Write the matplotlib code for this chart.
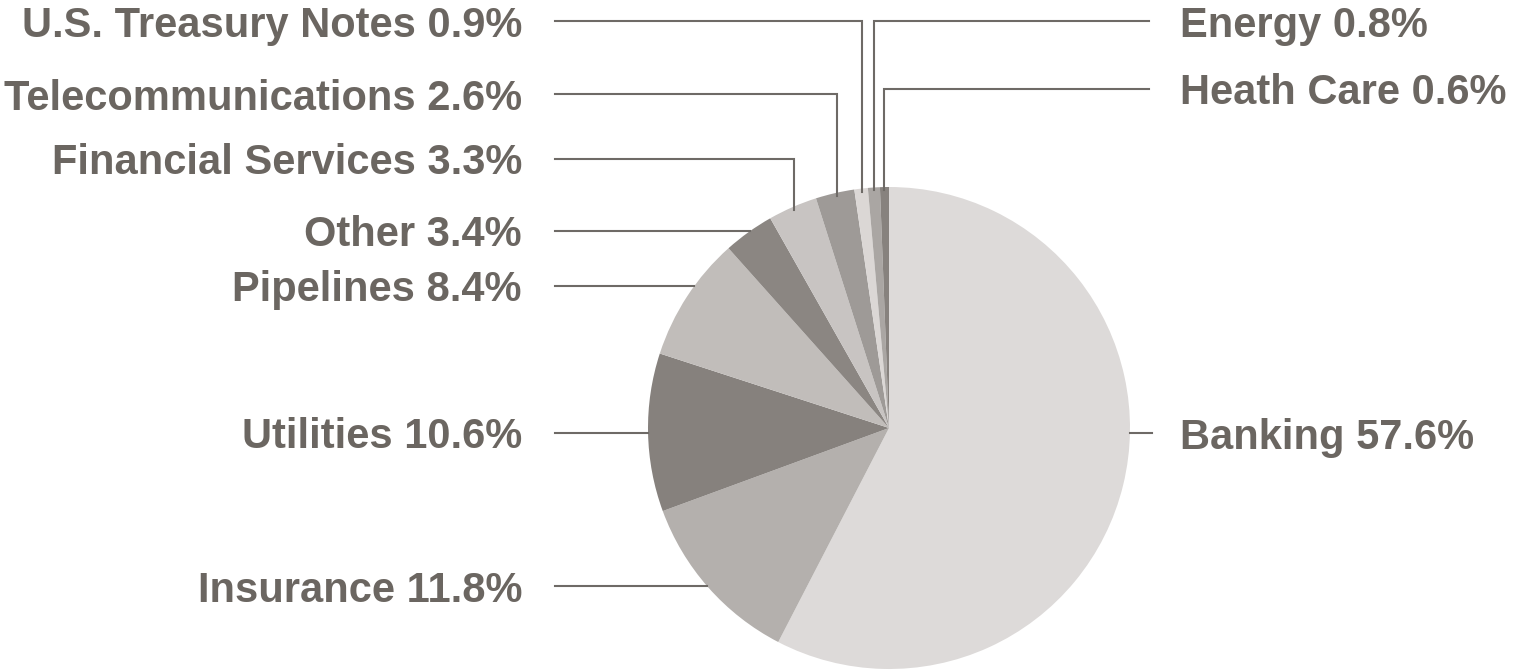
import numpy as np
import matplotlib.pyplot as plt

# data
sectors = ['Banking', 'Insurance', 'Utilities', 'Pipelines', 'Other',
           'Financial Services', 'Telecommunications', 'U.S. Treasury Notes',
           'Energy', 'Heath Care']
shares = [57.6, 11.8, 10.6, 8.4, 3.4, 3.3, 2.6, 0.9, 0.8, 0.6]
colors = ['#dddad9', '#b4b0ad', '#86817d', '#c1bdba', '#8b8682',
          '#c8c4c2', '#9e9a97', '#dbd7d5', '#aaa6a3', '#87827e']

W, H = 1514, 670
cx, cy, R = 889, 428, 241      # pie centre / radius in pixels (y from top)
TXT = '#6b6661'
LINE = '#6e6a66'

# label layout: (side, label y, how the leader meets the pie)
#   'h' -> horizontal to the rim, ('v', x) -> elbow going down at x
layout = {
    'Banking': ('R', 433, 'h'),
    'Insurance': ('L', 586, 'h'),
    'Utilities': ('L', 433, 'h'),
    'Pipelines': ('L', 286, 'h'),
    'Other': ('L', 231, 'h'),
    'Financial Services': ('L', 159, ('v', 794)),
    'Telecommunications': ('L', 94, ('v', 837)),
    'U.S. Treasury Notes': ('L', 21, ('v', 862)),
    'Energy': ('R', 21, ('v', 874)),
    'Heath Care': ('R', 89, ('v', 884)),
}

fig = plt.figure(figsize=(W / 100, H / 100), dpi=100)
ax = fig.add_axes([0, 0, 1, 1])

ax.pie(shares, colors=colors, center=(cx, H - cy), radius=R,
       startangle=90, counterclock=False,
       wedgeprops=dict(linewidth=0), frame=True)
ax.set_xlim(0, W)
ax.set_ylim(0, H)
ax.set_aspect('equal')
ax.axis('off')

for name, val in zip(sectors, shares):
    side, ly, kind = layout[name]
    if kind == 'h':
        dx = np.sqrt(R ** 2 - (ly - cy) ** 2)
        if side == 'L':
            xs, ys = [555, cx - dx], [ly, ly]
        else:
            xs, ys = [cx + dx, 1152], [ly, ly]
    else:
        vx = kind[1]
        ey = cy - np.sqrt(R ** 2 - (vx - cx) ** 2) + 3
        if side == 'L':
            xs, ys = [555, vx, vx], [ly, ly, ey]
        else:
            xs, ys = [1149, vx, vx], [ly, ly, ey]
    ax.plot(xs, [H - y for y in ys], color=LINE, lw=1.5,
            solid_joinstyle='miter', zorder=3)

    # labels
    label = f'{name} {val}%'
    if side == 'L':
        ax.text(522, H - ly, label, ha='right', va='center_baseline',
                fontsize=30, fontweight='bold', color=TXT,
                family='Liberation Sans')
    else:
        ax.text(1180, H - ly, label, ha='left', va='center_baseline',
                fontsize=30, fontweight='bold', color=TXT,
                family='Liberation Sans')

fig.savefig('out.png', dpi=100)
